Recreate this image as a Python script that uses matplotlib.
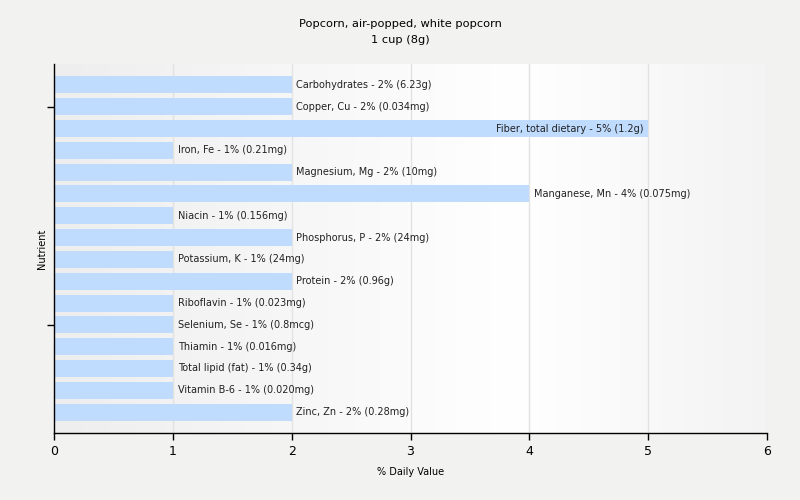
import numpy as np
import matplotlib
matplotlib.use("Agg")
import matplotlib.pyplot as plt
from matplotlib.colors import LinearSegmentedColormap

nutrients = ["Carbohydrates", "Copper, Cu", "Fiber, total dietary", "Iron, Fe",
             "Magnesium, Mg", "Manganese, Mn", "Niacin", "Phosphorus, P",
             "Potassium, K", "Protein", "Riboflavin", "Selenium, Se",
             "Thiamin", "Total lipid (fat)", "Vitamin B-6", "Zinc, Zn"]
daily_values = [2, 2, 5, 1, 2, 4, 1, 2, 1, 2, 1, 1, 1, 1, 1, 2]
amounts = ["6.23g", "0.034mg", "1.2g", "0.21mg", "10mg", "0.075mg", "0.156mg",
           "24mg", "24mg", "0.96g", "0.023mg", "0.8mcg", "0.016mg", "0.34g",
           "0.020mg", "0.28mg"]

plt.rcParams['font.family'] = ['DejaVu Sans']

fig = plt.figure(figsize=(8, 5), dpi=100, facecolor="#f2f2f1")
ax = fig.add_axes([0.0675, 0.134, 0.89125, 0.738])

# background gradient of the plot area
cmap = LinearSegmentedColormap.from_list("bg", [(0, "#eeeeee"), (0.65, "#ffffff"), (1, "#f3f3f3")])
ax.imshow(np.linspace(0, 1, 256).reshape(1, -1), cmap=cmap, aspect="auto",
          extent=[0, 6, 15.96, -0.96], zorder=0)

for x in range(1, 7):
    ax.axvline(x, color="#e2e2e2", lw=1, zorder=1)

y = np.arange(len(nutrients))
ax.barh(y, daily_values, height=0.78, color="#bfdbfe", zorder=2)

for i, (name, v, a) in enumerate(zip(nutrients, daily_values, amounts)):
    label = f"{name} - {v}% ({a})"
    if v >= 5:
        ax.text(v - 0.04, i, label, ha="right", va="center", fontsize=7, color="#222222", zorder=3)
    else:
        ax.text(v + 0.04, i, label, ha="left", va="center", fontsize=7, color="#222222", zorder=3)

ax.set_xlim(0, 6)
ax.set_ylim(15.96, -0.96)
ax.set_xticks(range(0, 7))
ax.set_yticks([1, 11])
ax.set_yticklabels([])
ax.tick_params(axis="x", labelsize=9, length=5, width=1, color="black")
ax.tick_params(axis="y", length=5, width=1, color="black")
for s in ["top", "right"]:
    ax.spines[s].set_visible(False)
for s in ["left", "bottom"]:
    ax.spines[s].set_color("black")
    ax.spines[s].set_linewidth(1)

ax.set_xlabel("% Daily Value", fontsize=7, va="center")
ax.xaxis.set_label_coords(0.5, -0.106)
ax.set_ylabel("Nutrient", fontsize=7, va="center")
ax.yaxis.set_label_coords(-0.017, 0.5)

fig.text(0.5, 0.952, "Popcorn, air-popped, white popcorn", ha="center", va="center", fontsize=8.2)
fig.text(0.5, 0.92, "1 cup (8g)", ha="center", va="center", fontsize=8.2)

fig.savefig("out.png", dpi=100, facecolor=fig.get_facecolor())
